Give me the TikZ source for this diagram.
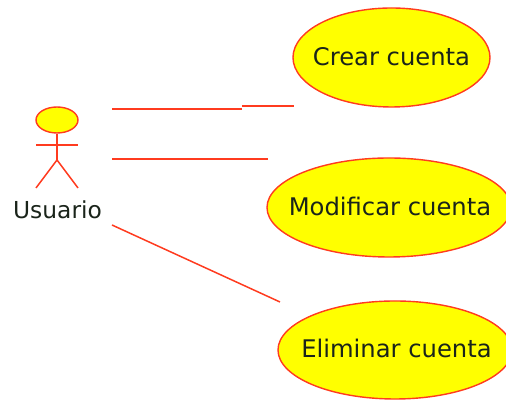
\documentclass[tikz,border=0pt]{standalone}
\usepackage{fontspec}
\setmainfont{DejaVu Sans}
\usepackage{xcolor}
\definecolor{umlred}{HTML}{FF3B1F}
\definecolor{umlyellow}{HTML}{FFFF00}
\definecolor{umltext}{HTML}{1A241A}
\newcommand{\ucname}[1]{\makebox[0pt]{\raisebox{0.05cm}{#1}}}
\tikzset{
        usecase/.style={ellipse, draw=umlred, fill=umlyellow, line width=0.8pt, inner sep=0pt, text=umltext, font=\fontsize{13.8}{15}\selectfont},
        assoc/.style={draw=umlred, line width=0.85pt},
        actorlabel/.style={text=umltext, inner sep=0pt, font=\fontsize{13.3}{15}\selectfont},
    }
\usetikzlibrary{shapes.geometric}
\begin{document}
\begin{tikzpicture}
        \useasboundingbox (0,0) rectangle (10.12,8);
        % use cases
        \node[usecase, minimum width=3.94cm, minimum height=1.98cm] (crear) at (7.83, 6.85) {\ucname{Crear cuenta}};
        \node[usecase, minimum width=4.88cm, minimum height=1.98cm] (modificar) at (7.78, 3.85) {\ucname{\hspace{0.04cm}Modificar cuenta}};
        \node[usecase, minimum width=4.68cm, minimum height=1.96cm] (eliminar) at (7.90, 1.00) {\ucname{\hspace{0.06cm}Eliminar cuenta}};

        % actor
        \node[usecase, minimum width=0.84cm, minimum height=0.52cm] (head) at (1.14, 5.60) {};
        \node[actorlabel] (usuario) at (1.15, 3.80) {Usuario};
        \coordinate (hip) at (1.14, 4.80);
        \coordinate (armleft) at (0.72, 5.10);
        \coordinate (armright) at (1.56, 5.10);
        \coordinate (footleft) at (0.72, 4.24);
        \coordinate (footright) at (1.56, 4.24);
        \draw[assoc] (head.south) -- (hip);
        \draw[assoc] (armleft) -- (armright);
        \draw[assoc] (footleft) -- (hip) -- (footright);

        % associations
        \coordinate (crearstart) at (2.24, 5.82);
        \coordinate (crearstep) at (4.84, 5.82);
        \coordinate (crearend) at (5.88, 5.88);
        \coordinate (modifstart) at (2.24, 4.82);
        \coordinate (modifend) at (5.36, 4.82);
        \coordinate (elimstart) at (2.24, 3.50);
        \coordinate (elimend) at (5.60, 1.96);
        \draw[assoc] (crearstart) -- (crearstep);
        \draw[assoc] (crearstep |- crearend) -- (crearend);
        \draw[assoc] (modifstart) -- (modifend);
        \draw[assoc] (elimstart) -- (elimend);
    \end{tikzpicture}
\end{document}
